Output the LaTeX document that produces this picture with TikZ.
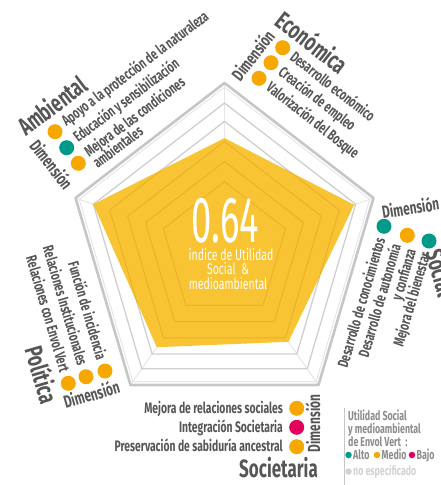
\documentclass[tikz,border=0pt]{standalone}
\usepackage{fontspec}
\newfontfamily\cond[FakeStretch=0.68]{Fira Sans}
\newfontfamily\condn[FakeStretch=0.56]{Fira Sans}
\usetikzlibrary{calc}
\definecolor{txt}{HTML}{565656}
\definecolor{orng}{HTML}{F6A800}
\definecolor{tealc}{HTML}{00998A}
\definecolor{crim}{HTML}{E2005A}
\definecolor{ylw}{HTML}{F8C433}
\definecolor{ylwd}{HTML}{E9B22A}
\definecolor{ringc}{HTML}{CFCFCF}
\definecolor{framec}{HTML}{C6C6C6}
\definecolor{axisc}{HTML}{E6E6E6}
\definecolor{legc}{HTML}{8C8C8C}
\definecolor{nsc}{HTML}{D2D2D2}
\begin{document}
\begin{tikzpicture}[x=1pt,y=-1pt,
  lbl/.style={font=\cond\bfseries\fontsize{15.2}{17}\selectfont, text=txt, inner sep=0pt, text height=10.4pt, text depth=0pt},
  big/.style={font=\cond\bfseries\fontsize{25}{25}\selectfont, text=txt, inner sep=0pt, text height=17.2pt, text depth=0pt},
  dimlbl/.style={font=\cond\bfseries\fontsize{17.5}{18}\selectfont, text=txt, inner sep=0pt, text height=12pt, text depth=0pt},
  dot/.style={circle, minimum size=15pt, inner sep=0pt, draw=none},
  ldot/.style={circle, minimum size=6.5pt, inner sep=0pt, draw=none},
  ctr/.style={font=\cond\fontsize{15.5}{16}\selectfont, text=white, inner sep=0pt, anchor=base},
  leg/.style={font=\cond\bfseries\fontsize{13}{14}\selectfont, text=legc, inner sep=0pt, anchor=base west},
  ringline/.style={ringc, line width=1.3pt, line join=round},
  yring/.style={ylwd, line width=1pt, line join=round}]
\useasboundingbox (0,0) rectangle (440,485);
\coordinate (C) at (224.5,250);
\coordinate (V1) at (224.5,83);
\coordinate (V2) at (373.5,198);
\coordinate (V3) at (318.5,385);
\coordinate (V4) at (130.5,385);
\coordinate (V5) at (75.5,198);
% axes
\foreach \i in {1,...,5} \draw[axisc, line width=1pt] (C) -- (V\i);
% rings
\foreach \f in {0.88,0.77}
  \draw[ringline] ($(C)!\f!(V1)$) -- ($(C)!\f!(V2)$) -- ($(C)!\f!(V3)$) -- ($(C)!\f!(V4)$) -- ($(C)!\f!(V5)$) -- cycle;
\draw[axisc, line width=1pt, line join=round] ($(C)!0.975!(V1)$) -- ($(C)!0.975!(V2)$) -- ($(C)!0.975!(V3)$) -- ($(C)!0.975!(V4)$) -- ($(C)!0.975!(V5)$) -- cycle;
% data polygon
\coordinate (D1) at ($(C)!0.67!(V1)$);
\coordinate (D2) at ($(C)!0.87!(V2)$);
\coordinate (D3) at ($(C)!0.68!(V3)$);
\coordinate (D4) at ($(C)!0.72!(V4)$);
\coordinate (D5) at ($(C)!0.88!(V5)$);
\fill[ylw] (D1) -- (D2) -- (D3) -- (D4) -- (D5) -- cycle;
\begin{scope}
  \clip (D1) -- (D2) -- (D3) -- (D4) -- (D5) -- cycle;
  \foreach \f in {0.88,0.77,0.65,0.53,0.41}
    \draw[yring] ($(C)!\f!(V1)$) -- ($(C)!\f!(V2)$) -- ($(C)!\f!(V3)$) -- ($(C)!\f!(V4)$) -- ($(C)!\f!(V5)$) -- cycle;
\end{scope}
% outer frame
\draw[framec, line width=2.6pt, line join=round] (V1) -- (V2) -- (V3) -- (V4) -- (V5) -- cycle;

% centre text
\node[font=\condn\fontsize{65}{65}\selectfont, text=white, anchor=base, inner sep=0pt] (val) at (225.5,242) {0.64};
\node[ctr] (c1) at (231,260) {índice de Utilidad};
\node[ctr] (c2) at (228,274.5) {Social\ \ \&};
\node[ctr] (c3) at (228,289) {medioambiental};

% Ambiental
\node[dot, fill=orng] (a1) at (55,131.7) {};
\node[dot, fill=tealc] (a2) at (66.7,147.7) {};
\node[dot, fill=orng] (a3) at (78.3,163.3) {};
\node[lbl, rotate=37, anchor=west] (a1t) at (63.4,122.9) {Apoyo a la protección de la naturaleza};
\node[lbl, rotate=37, anchor=west] (a2t) at (75.1,138.9) {Educación y sensibilización};
\node[lbl, rotate=37, anchor=west] (a3t) at (86.1,153.7) {Mejora de las condiciones};
\node[lbl, rotate=37, anchor=west] (a3u) at (94.5,164.9) {ambientales};
\node[big, rotate=37] (amb) at (52.5,106.2) {Ambiental};
\node[dimlbl, rotate=-52] (ambd) at (51,165) {Dimensión};

% Economica
\node[dot, fill=orng] (e1) at (282.7,47.7) {};
\node[dot, fill=orng] (e2) at (271,62.7) {};
\node[dot, fill=orng] (e3) at (259,78.3) {};
\node[lbl, rotate=-38, anchor=west] (e1t) at (292.2,55.1) {Desarrollo económico};
\node[lbl, rotate=-38, anchor=west] (e2t) at (280.5,70.1) {Creación de empleo};
\node[lbl, rotate=-38, anchor=west] (e3t) at (268.5,85.7) {Valorización del Bosque};
\node[big, rotate=-38] (eco) at (311.7,43.3) {Económica};
\node[dimlbl, rotate=52] (ecod) at (253.3,55.7) {Dimensión};

% Social
\node[dot, fill=tealc] (s1) at (384,226.3) {};
\node[dot, fill=orng] (s2) at (407.3,235.3) {};
\node[dot, fill=tealc] (s3) at (429,241) {};
\node[lbl, rotate=73.6, anchor=east] (s1t) at (380.6,237.8) {Desarrollo de conocimientos};
\node[lbl, rotate=73.6, anchor=east] (s2t) at (396.4,244.6) {Desarrollo de autonomía};
\node[lbl, rotate=73.6, anchor=east] (s2u) at (411.4,249) {y confianza};
\node[lbl, rotate=73.6, anchor=east] (s3t) at (425.6,252.5) {Mejora del bienestar};
\node[dimlbl, rotate=9, anchor=west] (socd) at (382,213) {Dimensión};
\node[big, rotate=-73.6] (soc) at (440,273) {Social};

% Politica
\node[dot, fill=orng] (p1) at (105,371) {};
\node[dot, fill=orng] (p2) at (86,376.7) {};
\node[dot, fill=orng] (p3) at (68.3,383.3) {};
\node[lbl, rotate=-73.6, anchor=east] (p1t) at (101.6,359.5) {Función de incidencia};
\node[lbl, rotate=-73.6, anchor=east] (p2t) at (82.6,365.2) {Relaciones Institucionales};
\node[lbl, rotate=-73.6, anchor=east] (p3t) at (64.9,371.8) {Relaciones con Envol Vert};
\node[big, rotate=-73.6] (pol) at (40.8,375) {Política};
\node[dimlbl, rotate=16.4] (pold) at (91.7,395) {Dimensión};

% Societaria
\node[dot, fill=orng] (q1) at (296.7,408.3) {};
\node[dot, fill=crim] (q2) at (296.7,427.3) {};
\node[dot, fill=orng] (q3) at (296.7,446.7) {};
\node[lbl, anchor=east] (q1t) at (283,408.3) {Mejora de relaciones sociales};
\node[lbl, anchor=east] (q2t) at (283,427.3) {Integración Societaria};
\node[lbl, anchor=east] (q3t) at (283,446.7) {Preservación de sabiduría ancestral};
\node[dimlbl, rotate=90] (qd) at (314,423.5) {Dimensión};
\node[big, anchor=base east] (qn) at (318,477) {Societaria};

% legend
\coordinate (lgt) at (344.5,408);
\coordinate (lgb) at (344.5,485);
\draw[framec, line width=1.5pt] (lgt) -- (lgb);
\node[leg] (l1) at (348,420) {Utilidad Social};
\node[leg] (l2) at (348,433.5) {y medioambiental};
\node[leg] (l3) at (348,446.5) {de Envol Vert\ \ :};
\node[ldot, fill=tealc] (ld1) at (348.5,455) {};
\node[leg] (l4) at (353,459) {Alto};
\node[ldot, fill=orng] (ld2) at (377,455) {};
\node[leg] (l5) at (381.5,459) {Medio};
\node[ldot, fill=crim] (ld3) at (412,455) {};
\node[leg] (l6) at (416.5,459) {Bajo};
\node[ldot, fill=nsc] (ld4) at (348.5,471.5) {};
\node[leg, text=nsc] (l7) at (353,475.5) {no especificado};
\end{tikzpicture}
\end{document}
